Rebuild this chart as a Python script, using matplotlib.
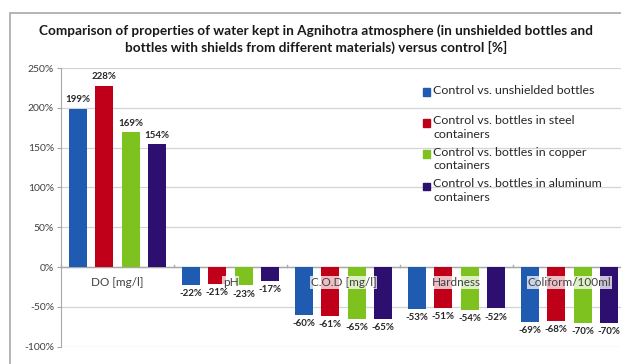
import matplotlib
matplotlib.use("Agg")
import matplotlib.pyplot as plt
import matplotlib.patches as patches
import numpy as np

plt.rcParams["font.family"] = ["Lato", "DejaVu Sans"]

categories = ["DO [mg/l]", "pH", "C.O.D [mg/l]", "Hardness", "Coliform/100ml"]
series_names = [
    "Control vs. unshielded bottles",
    "Control vs. bottles in steel\ncontainers",
    "Control vs. bottles in copper\ncontainers",
    "Control vs. bottles in aluminum\ncontainers",
]
unshielded = [199, -22, -60, -53, -69]
steel = [228, -21, -61, -51, -68]
copper = [169, -23, -65, -54, -70]
aluminum = [154, -17, -65, -52, -70]
colors = ["#1f5bb0", "#c00018", "#7dc21e", "#2c0f6e"]

yticks = [-100, -50, 0, 50, 100, 150, 200, 250]
title = ("Comparison of properties of water kept in Agnihotra atmosphere (in unshielded bottles and\n"
         "bottles with shields from different materials) versus control [%]")

W, H = 621, 364
fig = plt.figure(figsize=(W / 100, H / 100), dpi=100)

# outer chart frame (cut off on the right and bottom like the screenshot)
frame = patches.Rectangle((10 / W, -0.1), 1.2, (H - 13) / H + 0.1, transform=fig.transFigure,
                          fill=False, edgecolor="#a8a8a8", linewidth=1.2)
fig.patches.append(frame)

fig.text(316 / W, 1 - 39 / H, title, ha="center", va="center", fontsize=9.8,
         fontweight="bold", color="#1a1a1a", linespacing=1.4)

ax = fig.add_axes([61 / W, (H - 346.7) / H, (626 - 61) / W, (346.7 - 68) / H])

x = np.arange(len(categories))
step = 0.233
width = 0.16
all_series = [unshielded, steel, copper, aluminum]
for k, vals in enumerate(all_series):
    pos = x + (k - 1.5) * step
    bars = ax.bar(pos, vals, width, color=colors[k], zorder=3)
    for b, v in zip(bars, vals):
        if v >= 0:
            ax.annotate("{}%".format(v), (b.get_x() + b.get_width() / 2, v), xytext=(0, 3),
                        textcoords="offset points", ha="center", va="bottom",
                        fontsize=7, fontweight="bold", color="#262626", zorder=5)
        else:
            ax.annotate("{}%".format(v), (b.get_x() + b.get_width() / 2, v), xytext=(0, -3),
                        textcoords="offset points", ha="center", va="top",
                        fontsize=7, fontweight="bold", color="#262626", zorder=5)

for i, name in enumerate(categories):
    ax.text(i, -19, name, ha="center", va="center", fontsize=8.5, color="#404040", zorder=4,
            bbox=dict(facecolor="white", edgecolor="none", alpha=0.75, pad=0.6))

ax.set_xlim(-0.5, len(categories) - 0.5)
ax.set_ylim(-100, 250)
ax.set_yticks(yticks)
ax.set_yticklabels(["{}%".format(t) for t in yticks], fontsize=7.5, color="#404040")
ax.set_xticks([])
ax.grid(axis="y", color="#d4d4d4", linewidth=0.9, zorder=0)
ax.axhline(0, color="#a8a8a8", linewidth=1.0, zorder=2)
for b in np.arange(len(categories) + 1) - 0.5:
    ax.plot([b, b], [0, 3], color="#a8a8a8", linewidth=1.0, zorder=2, clip_on=False)
for s in ["top", "right", "bottom"]:
    ax.spines[s].set_visible(False)
ax.spines["left"].set_color("#a8a8a8")
ax.tick_params(axis="y", length=3, color="#a8a8a8", pad=2)

# legend drawn Excel style, entries stacked on the right of the plot
legend_y = [92, 123, 154, 186]
for k, name in enumerate(series_names):
    yy = 1 - legend_y[k] / H
    fig.patches.append(patches.Rectangle((423 / W, yy - 3.5 / H), 7 / W, 7 / H,
                                         transform=fig.transFigure, color=colors[k]))
    fig.text(433 / W, yy + 7.5 / H, name, ha="left", va="top", fontsize=8.9,
             color="#262626", linespacing=1.25)

fig.savefig("out.png", dpi=100)
